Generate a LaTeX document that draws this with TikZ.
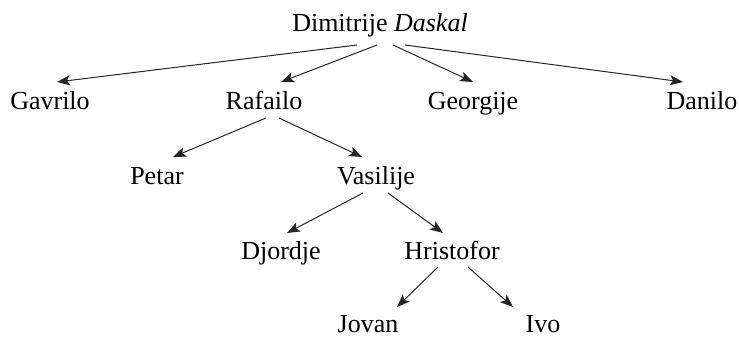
\documentclass[tikz,border=0pt]{standalone}
\usepackage{fontspec}
\setmainfont{Liberation Serif}
\usetikzlibrary{arrows.meta}

\begin{document}
\begin{tikzpicture}[
    x=1pt, y=1pt,
    person/.style={anchor=base,inner sep=0pt,font=\fontsize{26}{30}\selectfont},
    desc/.style={draw,black!85,line width=1pt,-{Stealth[length=13pt,width=10pt,inset=3pt]}}]
  \useasboundingbox (0,0) rectangle (739,339);
  % generations, top to bottom
  \node[person] (dim) at (380,307) {Dimitrije \textit{Daskal}};
  \node[person] (gav) at (50,229) {Gavrilo};
  \node[person] (raf) at (264,229) {Rafailo};
  \node[person] (geo) at (473,229) {Georgije};
  \node[person] (dan) at (702,229) {Danilo};
  \node[person] (pet) at (157,154) {Petar};
  \node[person] (vas) at (376,154) {Vasilije};
  \node[person] (djo) at (281,79) {Djordje};
  \node[person] (hri) at (452,79) {Hristofor};
  \node[person] (jov) at (368,6) {Jovan};
  \node[person] (ivo) at (543,6) {Ivo};
  % descent
  \draw[desc] ([shift={(-23,-13)}]dim.base) -- ([shift={(7,28)}]gav.base);
  \draw[desc] ([shift={(-3,-13)}]dim.base) -- ([shift={(17,28)}]raf.base);
  \draw[desc] ([shift={(13,-13)}]dim.base) -- ([shift={(0,28)}]geo.base);
  \draw[desc] ([shift={(25,-13)}]dim.base) -- ([shift={(-19,28)}]dan.base);
  \draw[desc] ([shift={(2,-8)}]raf.base) -- ([shift={(16,28)}]pet.base);
  \draw[desc] ([shift={(15,-8)}]raf.base) -- ([shift={(-14,28)}]vas.base);
  \draw[desc] ([shift={(-13,-8)}]vas.base) -- ([shift={(6,27)}]djo.base);
  \draw[desc] ([shift={(12,-8)}]vas.base) -- ([shift={(-9,27)}]hri.base);
  \draw[desc] ([shift={(-14,-7)}]hri.base) -- ([shift={(29,26)}]jov.base);
  \draw[desc] ([shift={(16,-7)}]hri.base) -- ([shift={(-30,26)}]ivo.base);
\end{tikzpicture}
\end{document}
